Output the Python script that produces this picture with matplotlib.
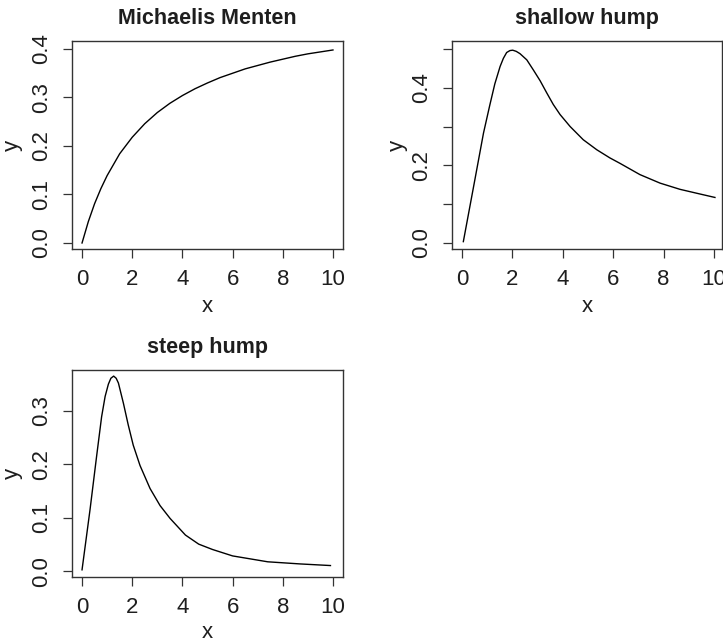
import matplotlib
matplotlib.use("Agg")
import matplotlib.pyplot as plt

# ---- data ----
mm_x = [0, 0.25, 0.5, 0.75, 1, 1.5, 2, 2.5, 3, 3.5, 4, 4.5, 5, 5.5, 6, 6.5, 7, 7.5, 8, 8.5, 9, 9.5, 10]
mm_y = [0.0, 0.044, 0.081, 0.112, 0.139, 0.184, 0.218, 0.246, 0.269, 0.288, 0.304, 0.318, 0.330,
        0.341, 0.350, 0.359, 0.366, 0.373, 0.379, 0.385, 0.390, 0.394, 0.398]

sh_x = [0.05, 0.5, 0.85, 1.1, 1.3, 1.51, 1.64, 1.77, 1.9, 2.01, 2.15, 2.30, 2.57, 2.83, 3.10,
        3.36, 3.62, 3.89, 4.29, 4.81, 5.35, 5.87, 6.27, 7.06, 7.86, 8.65, 9.44, 10.04]
sh_y = [0.003, 0.16, 0.283, 0.355, 0.41, 0.455, 0.476, 0.491, 0.496, 0.497, 0.494, 0.488, 0.472,
        0.446, 0.418, 0.387, 0.357, 0.331, 0.300, 0.266, 0.240, 0.219, 0.205, 0.176, 0.154,
        0.138, 0.126, 0.117]

st_x = [0, 0.32, 0.58, 0.78, 0.92, 1.05, 1.15, 1.26, 1.36, 1.45, 1.65, 1.84, 2.04, 2.31, 2.71,
        3.11, 3.51, 4.12, 4.65, 5.2, 6.0, 7.4, 8.7, 9.9]
st_y = [0.003, 0.116, 0.215, 0.289, 0.327, 0.350, 0.361, 0.365, 0.361, 0.352, 0.314, 0.274,
        0.236, 0.198, 0.155, 0.123, 0.099, 0.068, 0.051, 0.041, 0.029, 0.018, 0.014, 0.011]

titles = ["Michaelis Menten", "shallow hump", "steep hump"]
x_ticks = [0, 2, 4, 6, 8, 10]
mm_yticks = [0.0, 0.1, 0.2, 0.3, 0.4]
sh_yticks = [0.0, 0.1, 0.2, 0.3, 0.4, 0.5]
sh_ylabels = ["0.0", "", "0.2", "", "0.4", ""]
st_yticks = [0.0, 0.1, 0.2, 0.3]

plt.rcParams['font.family'] = ['Liberation Sans', 'DejaVu Sans']
TXT = "#1e1e1e"
FS = 16

W, H = 723, 642
fig = plt.figure(figsize=(W / 100, H / 100), dpi=100)


def make_ax(l, r, t, b):
    return fig.add_axes([l / W, 1 - b / H, (r - l) / W, (b - t) / H])


def style(ax, title, yticks, ylabels=None):
    for s in ax.spines.values():
        s.set_linewidth(1.0)
        s.set_color("#333333")
    ax.set_xticks(x_ticks)
    ax.set_xticklabels([str(v) for v in x_ticks])
    ax.set_yticks(yticks)
    if ylabels is None:
        ylabels = ["%.1f" % v for v in yticks]
    ax.set_yticklabels(ylabels, rotation=90, va="center")
    ax.tick_params(axis="both", direction="out", length=6.5, width=0.9,
                   colors="#333333", labelcolor=TXT, labelsize=FS)
    ax.tick_params(axis="x", pad=8)
    ax.tick_params(axis="y", pad=8)
    ax.set_title(title, fontsize=15.5, fontweight="bold", color=TXT, y=1.11, va="center", pad=0)
    ax.set_xlabel("x", fontsize=FS, color=TXT)
    ax.set_ylabel("y", fontsize=FS, color=TXT)


# panel 1
ax1 = make_ax(72, 343, 41, 249)
ax1.plot(mm_x, mm_y, color="black", lw=1.0)
ax1.set_xlim(-0.4, 10.4)
ax1.set_ylim(-0.0124, 0.4165)
style(ax1, titles[0], mm_yticks)
ax1.xaxis.set_label_coords(0.5, (249 - 307) / 208)
ax1.xaxis.label.set_va("center")
ax1.yaxis.set_label_coords((12 - 72) / 271, 0.5)
ax1.yaxis.label.set_va("center")

# panel 2
ax2 = make_ax(452, 722, 41, 249)
ax2.plot(sh_x, sh_y, color="black", lw=1.0)
ax2.set_xlim(-0.4, 10.32)
ax2.set_ylim(-0.016, 0.5207)
style(ax2, titles[1], sh_yticks, sh_ylabels)
ax2.xaxis.set_label_coords(0.5, (249 - 307) / 208)
ax2.xaxis.label.set_va("center")
ax2.yaxis.set_label_coords((397 - 452) / 270, 0.5)
ax2.yaxis.label.set_va("center")

# panel 3
ax3 = make_ax(72, 343, 370, 577)
ax3.plot(st_x, st_y, color="black", lw=1.0)
ax3.set_xlim(-0.4, 10.4)
ax3.set_ylim(-0.0104, 0.3764)
style(ax3, titles[2], st_yticks)
ax3.xaxis.set_label_coords(0.5, (577 - 633) / 207)
ax3.xaxis.label.set_va("center")
ax3.yaxis.set_label_coords((12 - 72) / 271, 0.5)
ax3.yaxis.label.set_va("center")

fig.savefig("out.png", dpi=100, facecolor="white")
